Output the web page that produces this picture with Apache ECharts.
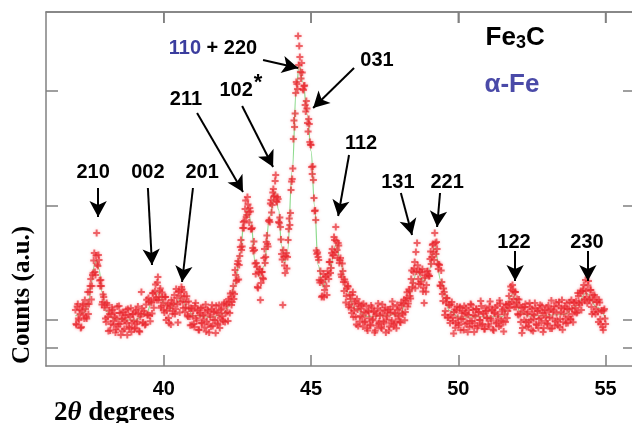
<!DOCTYPE html>
<html>
<head>
<meta charset="utf-8">
<script src="https://cdn.jsdelivr.net/npm/echarts@6/dist/echarts.min.js"></script>
<style>
  html, body { margin: 0; padding: 0; background: #fff; }
  #chart { width: 632px; height: 423px; }
</style>
</head>
<body>
<div id="chart"></div>
<script>
// 2theta scan: counts at 37.00, 37.04, ... (one row per degree)
const scanStart = 37.0
const scanStep = 0.04
const counts = [
  560, 410, 620, 460, 520, 390, 600, 510, 660, 490, 620, 520, 740, 870, 800, 930, 1130, 910, 1330, 1000, 1060, 800, 800, 640, 690,
  610, 440, 610, 350, 520, 420, 585, 450, 530, 335, 475, 395, 600, 420, 530, 350, 480, 450, 560, 310, 510, 380, 580, 430, 520,
  370, 540, 420, 595, 350, 495, 740, 430, 550, 410, 615, 510, 680, 505, 650, 525, 730, 665, 815, 660, 890, 690, 775, 600, 690,
  560, 690, 460, 605, 480, 580, 415, 635, 550, 710, 570, 680, 435, 750, 640, 790, 650, 740, 540, 640, 505, 645, 495, 580, 410,
  555, 390, 630, 455, 565, 360, 510, 430, 585, 465, 535, 345, 565, 415, 515, 395, 610, 460, 550, 330, 535, 415, 610, 480, 575,
  460, 620, 440, 605, 540, 670, 530, 690, 640, 800, 720, 910, 860, 1050, 1010, 1190, 1160, 1380, 1380, 1570, 1490, 1690, 1540, 1580, 1370,
  1380, 1150, 1160, 920, 990, 780, 940, 660, 940, 880, 1080, 1030, 1240, 1220, 1450, 1440, 1660, 1610, 1770, 1700, 1910, 1640, 1670, 1430, 1390,
  1120, 610, 1090, 930, 1130, 1090, 1370, 1410, 1760, 1870, 2270, 2390, 2730, 2820, 3300, 3200, 2940, 3030, 2770, 2800, 2610, 2650, 2430, 2470, 2240,
  2210, 1920, 1860, 1550, 1460, 1120, 1090, 860, 950, 690, 840, 690, 890, 800, 950, 870, 1040, 980, 1170, 1110, 1260, 1390, 1160, 1230, 1030,
  1080, 890, 950, 750, 840, 700, 800, 590, 710, 580, 710, 490, 625, 490, 670, 400, 600, 500, 610, 395, 540, 445, 600, 355, 540,
  415, 605, 455, 545, 335, 505, 405, 625, 445, 555, 375, 515, 425, 585, 465, 535, 355, 565, 435, 645, 395, 530, 435, 610, 475,
  575, 435, 610, 515, 665, 540, 680, 595, 765, 700, 870, 790, 940, 1040, 1140, 1230, 870, 960, 820, 935, 745, 630, 905, 810, 950,
  900, 1070, 1020, 1210, 1140, 1330, 1120, 1170, 970, 1010, 800, 840, 650, 740, 550, 680, 485, 615, 430, 615, 485, 325, 565, 430, 595,
  430, 580, 360, 530, 470, 600, 420, 520, 340, 560, 450, 610, 400, 510, 430, 570, 380, 540, 460, 650, 410, 530, 370, 580, 480,
  555, 395, 645, 455, 565, 355, 525, 425, 605, 475, 655, 405, 545, 445, 585, 440, 610, 550, 700, 620, 760, 810, 670, 740, 590,
  670, 510, 610, 440, 330, 585, 460, 620, 390, 540, 440, 590, 360, 520, 470, 630, 420, 550, 380, 570, 480, 600, 340, 530, 450,
  585, 415, 545, 375, 655, 475, 565, 405, 635, 455, 600, 390, 540, 660, 440, 575, 475, 630, 430, 565, 470, 660, 520, 635, 540,
  650, 540, 700, 610, 750, 640, 765, 655, 860, 690, 805, 655, 760, 590, 710, 540, 690, 570, 640, 440, 635, 420, 555, 360, 570,
  420
]
// the in-between scan points: counts at 37.02, 37.06, ...
const midStart = 37.02
const midCounts = [
  420, 595, 475, 565, 380, 555, 615, 475, 570, 475, 740, 620, 800, 665, 910, 1055, 940, 1105, 1015, 1110, 855, 860, 615, 715, 585,
  475, 630, 490, 555, 355, 518, 563, 410, 488, 365, 595, 423, 530, 310, 470, 540, 370, 510, 430, 570, 390, 490, 340, 520, 450,
  380, 560, 443, 528, 343, 518, 575, 435, 525, 418, 663, 510, 643, 448, 633, 728, 583, 745, 683, 835, 660, 753, 583, 735, 635,
  535, 690, 553, 623, 430, 603, 660, 523, 620, 520, 770, 618, 743, 535, 700, 765, 580, 695, 585, 698, 495, 575, 408, 575, 497,
  420, 600, 478, 555, 363, 530, 580, 428, 505, 385, 615, 445, 555, 335, 495, 568, 400, 540, 460, 603, 425, 528, 380, 563, 498,
  445, 635, 528, 623, 450, 645, 725, 610, 735, 670, 960, 850, 1020, 865, 1100, 1260, 1195, 1440, 1450, 1655, 1510, 1615, 1435, 1545, 1370,
  1180, 1245, 1025, 1030, 790, 930, 970, 830, 940, 870, 1170, 1090, 1305, 1195, 1460, 1625, 1535, 1735, 1695, 1850, 1650, 1690, 1440, 1485, 1265,
  1065, 1160, 1005, 1100, 975, 1260, 1475, 1530, 1845, 1975, 2455, 2525, 2840, 2770, 3010, 3090, 2875, 2935, 2760, 2805, 2545, 2575, 2345, 2420, 2215,
  1990, 1995, 1680, 1555, 1155, 1135, 1060, 835, 855, 700, 920, 760, 895, 710, 915, 1040, 930, 1130, 1105, 1290, 1140, 1250, 1080, 1205, 1060,
  915, 1025, 840, 865, 635, 775, 795, 615, 670, 530, 740, 553, 648, 415, 565, 625, 445, 575, 488, 623, 438, 533, 378, 553, 478,
  405, 585, 465, 545, 355, 525, 575, 425, 505, 385, 615, 445, 555, 335, 495, 565, 395, 535, 455, 595, 418, 523, 378, 563, 500,
  440, 633, 528, 625, 458, 655, 738, 625, 748, 675, 955, 830, 975, 778, 945, 1008, 820, 940, 843, 970, 783, 883, 743, 945, 915,
  900, 1145, 1090, 1220, 1060, 1230, 1240, 1020, 1015, 805, 955, 720, 775, 510, 635, 678, 485, 608, 513, 640, 450, 540, 383, 558, 483,
  410, 590, 470, 550, 360, 530, 580, 430, 510, 390, 620, 450, 560, 340, 500, 570, 400, 540, 460, 600, 420, 520, 370, 550, 480,
  415, 595, 475, 555, 365, 535, 585, 435, 515, 395, 625, 455, 565, 345, 518, 615, 480, 620, 580, 795, 640, 750, 590, 740, 630,
  520, 665, 520, 583, 380, 543, 590, 440, 520, 400, 630, 460, 570, 350, 510, 580, 410, 550, 470, 610, 430, 530, 380, 560, 490,
  425, 605, 485, 565, 375, 545, 595, 445, 528, 408, 640, 470, 580, 363, 525, 595, 428, 570, 493, 638, 465, 575, 438, 633, 580,
  530, 730, 630, 730, 560, 748, 810, 668, 750, 628, 850, 668, 760, 520, 660, 710, 520, 640, 540, 663, 468, 553, 388, 555, 475
]

// fitted profile (green line), [2theta, counts]
const fitCurve = [
  [37.0, 500], [37.3, 535], [37.45, 640], [37.55, 840], [37.65, 1020], [37.72, 1060], [37.8, 970], [37.9, 740],
  [38.05, 545], [38.3, 470], [39.0, 460], [39.4, 525], [39.6, 635], [39.82, 735], [40.0, 630], [40.2, 560],
  [40.4, 630], [40.6, 690], [40.8, 575], [41.0, 505], [41.6, 485], [42.0, 520], [42.2, 590], [42.4, 800],
  [42.6, 1130], [42.72, 1440], [42.85, 1590], [42.96, 1440], [43.1, 1040], [43.26, 880], [43.4, 1000], [43.6, 1500],
  [43.78, 1745], [43.9, 1560], [44.0, 1200], [44.1, 1030], [44.2, 1150], [44.36, 1950], [44.5, 2780], [44.6, 3020],
  [44.72, 2840], [44.88, 2510], [45.0, 2150], [45.12, 1600], [45.24, 1010], [45.4, 790], [45.6, 930], [45.86, 1225],
  [46.0, 1030], [46.2, 750], [46.5, 575], [46.9, 495], [48.0, 515], [48.3, 685], [48.6, 935], [48.84, 850],
  [49.0, 950], [49.2, 1200], [49.4, 860], [49.7, 555], [50.0, 490], [51.5, 495], [51.86, 725], [52.1, 540],
  [52.4, 500], [53.6, 515], [54.0, 600], [54.34, 730], [54.7, 590], [55.0, 480]
]

const xTicks = [40, 45, 50, 55]
const yTicks = [180, 460, 1600, 2750]

// reflection labels: text, 2theta, counts
const peakLabels = [
  ['{b|110} + 220', 41.67, 3180],
  ['102{s|*}', 42.62, 2760],
  ['211', 40.75, 2670],
  ['210', 37.60, 1940],
  ['002', 39.46, 1940],
  ['201', 41.30, 1940],
  ['031', 47.24, 3060],
  ['112', 46.70, 2230],
  ['131', 47.95, 1840],
  ['221', 49.62, 1840],
  ['122', 51.89, 1240],
  ['230', 54.37, 1240],
  ['{big|Fe}{sub|3}{big|C}', 51.93, 3280],
  ['{a|α-Fe}', 51.82, 2810]
]
// arrows: from (2theta, counts) to (2theta, counts)
const peakArrows = [
  [43.37, 3060, 44.56, 2980],
  [42.66, 2600, 43.71, 1990],
  [41.13, 2530, 42.69, 1740],
  [37.77, 1780, 37.77, 1490],
  [39.46, 1780, 39.60, 1010],
  [40.99, 1780, 40.62, 840],
  [46.46, 2980, 45.07, 2580],
  [46.29, 2110, 45.92, 1500],
  [48.05, 1730, 48.43, 1310],
  [49.38, 1730, 49.28, 1390],
  [51.93, 1150, 51.93, 850],
  [54.40, 1150, 54.40, 850]
]

const chart = echarts.init(document.getElementById('chart'))

const sans = '"Liberation Sans", Arial, sans-serif'
const serif = '"Liberation Serif", "Times New Roman", serif'
const boxColor = '#808080'
const ink = '#000'
const xRange = [36, 56]
const yRange = [0, 3540]

const scanPoints = counts.map((c, i) => [+(scanStart + i * scanStep).toFixed(2), c])
  .concat(midCounts.map((c, i) => [+(midStart + i * scanStep).toFixed(2), c]))

function boxAxis (type, position, ticks, tickLen) {
  const range = type === 'x' ? xRange : yRange
  return {
    type: 'value',
    position: position,
    min: range[0],
    max: range[1],
    axisLine: {show: true, onZero: false, lineStyle: {color: boxColor, width: 1.5}},
    axisTick: {show: true, inside: true, length: tickLen, customValues: ticks, lineStyle: {color: boxColor, width: 1.5}},
    axisLabel: {show: false},
    splitLine: {show: false}
  }
}

const bottomAxis = boxAxis('x', 'bottom', xTicks, 11)
bottomAxis.axisLabel = {
  show: true, customValues: xTicks, margin: 13,
  color: ink, fontFamily: sans, fontWeight: 'bold', fontSize: 20
}

const option = {
  animation: false,
  grid: {left: 46, top: 12, right: -3, bottom: 57, outerBoundsMode: 'none'},
  xAxis: [bottomAxis, boxAxis('x', 'top', xTicks, 11)],
  yAxis: [boxAxis('y', 'left', yTicks, 12), boxAxis('y', 'right', yTicks, 12)],
  series: [
    {
      name: 'fit',
      type: 'line',
      data: fitCurve,
      smooth: 0.4,
      smoothMonotone: 'x',
      showSymbol: false,
      lineStyle: {color: '#8edb8e', width: 1.2},
      z: 2,
      silent: true
    },
    {
      name: 'counts',
      type: 'scatter',
      data: scanPoints,
      symbol: 'path://M3.6,0H6.4V3.6H10V6.4H6.4V10H3.6V6.4H0V3.6H3.6Z',
      symbolSize: 7,
      itemStyle: {
        color: 'rgba(228, 30, 36, 0.8)',
        shadowColor: 'rgba(255, 110, 120, 0.7)',
        shadowBlur: 3
      },
      z: 3,
      silent: true
    },
    {
      name: 'labels',
      type: 'scatter',
      data: peakLabels.map(p => ({value: [p[1], p[2]], name: p[0]})),
      symbolSize: 1,
      itemStyle: {color: 'transparent'},
      label: {
        show: true,
        position: 'inside',
        formatter: p => p.name,
        color: ink,
        opacity: 1,
        textBorderWidth: 0,
        fontFamily: sans,
        fontWeight: 'bold',
        fontSize: 20,
        rich: {
          b: {color: '#3b3d9e', fontFamily: sans, fontWeight: 'bold', fontSize: 20},
          s: {color: ink, fontFamily: sans, fontWeight: 'bold', fontSize: 22, padding: [0, 0, 14, 1]},
          big: {color: ink, fontFamily: sans, fontWeight: 'bold', fontSize: 26},
          sub: {color: ink, fontFamily: sans, fontWeight: 'bold', fontSize: 18, padding: [11, 0, 0, 0]},
          a: {color: '#4a4aa8', fontFamily: sans, fontWeight: 'bold', fontSize: 26}
        }
      },
      markLine: {
        silent: true,
        symbol: ['none', 'arrow'],
        symbolSize: [13, 16],
        label: {show: false},
        lineStyle: {color: '#000', width: 2, type: 'solid', opacity: 1},
        emphasis: {disabled: true},
        data: peakArrows.map(a => [{coord: [a[0], a[1]]}, {coord: [a[2], a[3]]}])
      },
      z: 5,
      silent: true
    }
  ],
  graphic: [
    {
      type: 'text',
      id: 'yname',
      x: 23,
      y: 295,
      rotation: Math.PI / 2,
      style: {
        text: 'Counts (a.u.)',
        align: 'center',
        verticalAlign: 'middle',
        fill: ink,
        font: 'bold 25px ' + serif
      }
    },
    {
      type: 'text',
      id: 'xname',
      x: 54,
      y: 413,
      style: {
        text: '{n|2}{t|θ}{n| degrees}',
        align: 'left',
        verticalAlign: 'middle',
        rich: {
          n: {fill: ink, font: 'bold 27px ' + serif},
          t: {fill: ink, font: 'italic bold 27px ' + serif}
        }
      }
    }
  ]
}

chart.setOption(option)

// top frame edge with its inward ticks, placed through the grid's own scales
const topLeft = chart.convertToPixel({gridIndex: 0}, [xRange[0], yRange[1]])
const topRight = chart.convertToPixel({gridIndex: 0}, [xRange[1], yRange[1]])
const frameTop = [{
  type: 'line', id: 'frameTop', z: 50,
  shape: {x1: topLeft[0], y1: topLeft[1], x2: topRight[0], y2: topRight[1]},
  style: {stroke: boxColor, lineWidth: 1.5}
}].concat(xTicks.map((t, i) => {
  const p = chart.convertToPixel({gridIndex: 0}, [t, yRange[1]])
  return {
    type: 'line', id: 'topTick' + i, z: 50,
    shape: {x1: p[0], y1: p[1], x2: p[0], y2: p[1] + 11},
    style: {stroke: boxColor, lineWidth: 1.5}
  }
}))
chart.setOption({graphic: frameTop})
</script>
</body>
</html>
